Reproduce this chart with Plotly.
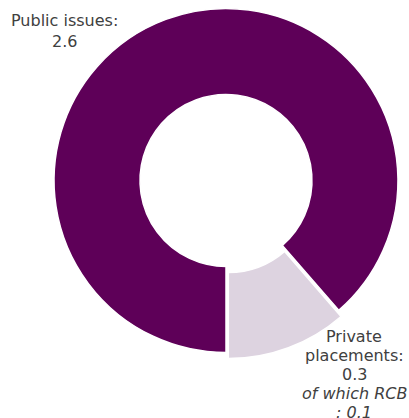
import plotly.graph_objects as go

labels = ["Public issues", "Private placements"]
values = [2.57, 0.33]
colors = ["#5E0058", "#DDD3E0"]
pulls = [0, 0.038]
rcb_value = 0.1

W, H = 409, 418
# pie domain in pixels (left, right, top, bottom)
dl, dr, dt, db = 47.5, 404.5, 2, 359

fig = go.Figure(go.Pie(
    labels=labels, values=values, hole=0.5, sort=False,
    direction="clockwise", rotation=180,
    marker=dict(colors=colors, line=dict(color="white", width=1.5)),
    pull=pulls, textinfo="none", hoverinfo="skip",
    domain=dict(x=[dl / W, dr / W], y=[1 - db / H, 1 - dt / H]),
    showlegend=False,
))

font = dict(family="DejaVu Sans, Verdana, sans-serif", size=16, color="#404040")

pub_lines = [f"{labels[0]}:", f"{values[0]:.1f}"]
pw = labels[1].split()
priv_lines = [pw[0], f"{pw[1]}:", f"{values[1]:.1f}",
              "<i>of which RCB</i>", f"<i>: {rcb_value}</i>"]


def add_lines(lines, cx, cy0, pitch):
    for i, t in enumerate(lines):
        fig.add_annotation(
            x=cx / W, y=1 - (cy0 + i * pitch) / H, xref="paper", yref="paper",
            xanchor="center", yanchor="middle", showarrow=False,
            text=t, font=font,
        )


add_lines(pub_lines, 64, 21, 20)
add_lines(priv_lines, 354, 336, 19)

fig.update_layout(
    width=W, height=H, margin=dict(l=0, r=0, t=0, b=0),
    paper_bgcolor="white", plot_bgcolor="white",
)
fig.write_html("out.html")
